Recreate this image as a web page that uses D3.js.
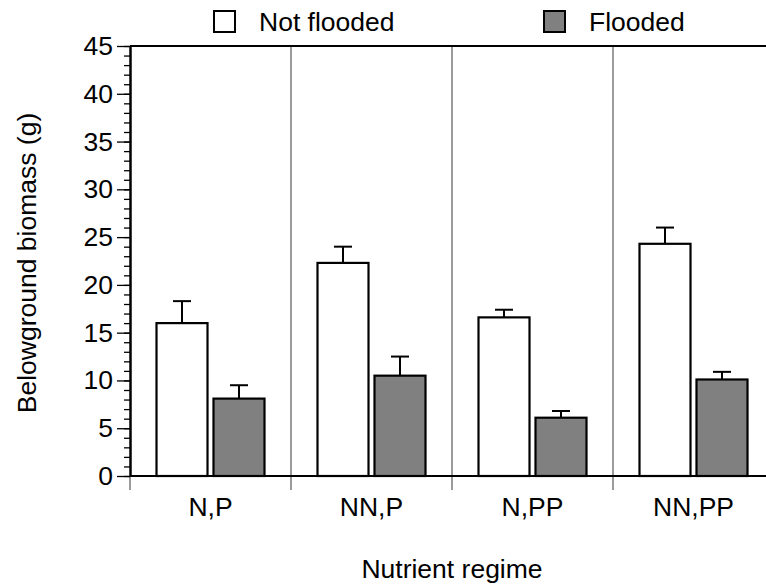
<!DOCTYPE html>
<html>
<head>
<meta charset="utf-8">
<script src="https://cdn.jsdelivr.net/npm/d3@7"></script>
<style>
  html, body { margin: 0; padding: 0; background: #fff; }
  svg { display: block; font-family: "Liberation Sans", Arial, sans-serif; }
</style>
</head>
<body>
<svg id="chart" width="766" height="588"></svg>
<script>
// Nutrient regimes along the x axis
const regimes = ["N,P", "NN,P", "N,PP", "NN,PP"];
// Treatment series
const series = ["Not flooded", "Flooded"];
const seriesFill = ["#ffffff", "#808080"];
// Mean belowground biomass (g)
const notFlooded = [16.0, 22.3, 16.6, 24.3];
const flooded = [8.1, 10.5, 6.1, 10.1];
// Upper end of the error bars (mean + SE)
const notFloodedUpper = [18.3, 24.0, 17.4, 26.0];
const floodedUpper = [9.5, 12.5, 6.8, 10.9];
// Y axis ticks
const yMajorTicks = [0, 5, 10, 15, 20, 25, 30, 35, 40, 45];
const yMinorTicks = d3.range(0, 46, 1);

const svg = d3.select("#chart");
const plotLeft = 130, plotRight = 774, plotTop = 46, plotBottom = 476;
const fontSize = 26.5;

const x = d3.scaleBand().domain(regimes).range([plotLeft, plotRight]).padding(0);
const xInner = d3.scaleBand().domain(series).range([0, x.bandwidth()])
  .paddingInner(0.105).paddingOuter(0.465);
const y = d3.scaleLinear().domain([0, 45]).range([plotBottom, plotTop]);

const rows = regimes.map((r, i) => ({
  regime: r,
  values: [
    { s: series[0], v: notFlooded[i], hi: notFloodedUpper[i] },
    { s: series[1], v: flooded[i], hi: floodedUpper[i] }
  ]
}));

// Group separators
svg.append("g").selectAll("line")
  .data(regimes.slice(1))
  .join("line")
  .attr("x1", d => x(d)).attr("x2", d => x(d))
  .attr("y1", plotTop).attr("y2", plotBottom)
  .attr("stroke", "#666").attr("stroke-width", 1.3);

// Category ticks below the axis
svg.append("g").selectAll("line")
  .data(regimes)
  .join("line")
  .attr("x1", d => x(d)).attr("x2", d => x(d))
  .attr("y1", plotBottom).attr("y2", plotBottom + 14)
  .attr("stroke", "#666").attr("stroke-width", 1.3);

// Bars and error bars
const groups = svg.append("g").selectAll("g")
  .data(rows)
  .join("g")
  .attr("transform", d => `translate(${x(d.regime)},0)`);

groups.selectAll("line.err")
  .data(d => d.values)
  .join("line")
  .attr("class", "err")
  .attr("x1", d => xInner(d.s) + xInner.bandwidth() / 2)
  .attr("x2", d => xInner(d.s) + xInner.bandwidth() / 2)
  .attr("y1", d => y(d.v)).attr("y2", d => y(d.hi))
  .attr("stroke", "#000").attr("stroke-width", 2);

groups.selectAll("line.cap")
  .data(d => d.values)
  .join("line")
  .attr("class", "cap")
  .attr("x1", d => xInner(d.s) + xInner.bandwidth() / 2 - 9)
  .attr("x2", d => xInner(d.s) + xInner.bandwidth() / 2 + 9)
  .attr("y1", d => y(d.hi)).attr("y2", d => y(d.hi))
  .attr("stroke", "#000").attr("stroke-width", 2);

groups.selectAll("rect")
  .data(d => d.values)
  .join("rect")
  .attr("x", d => xInner(d.s))
  .attr("width", xInner.bandwidth())
  .attr("y", d => y(d.v))
  .attr("height", d => y(0) - y(d.v))
  .attr("fill", (d, i) => seriesFill[i])
  .attr("stroke", "#000").attr("stroke-width", 2.2);

// Frame: top edge and baseline
svg.append("line").attr("x1", plotLeft).attr("x2", plotRight)
  .attr("y1", plotTop).attr("y2", plotTop).attr("stroke", "#000").attr("stroke-width", 2);
svg.append("line").attr("x1", plotLeft).attr("x2", plotRight)
  .attr("y1", plotBottom).attr("y2", plotBottom).attr("stroke", "#000").attr("stroke-width", 2);

// Y axis with minor ticks
const yMinor = svg.append("g").attr("transform", `translate(${plotLeft},0)`)
  .call(d3.axisLeft(y).tickValues(yMinorTicks).tickSize(6).tickFormat(""));
yMinor.select(".domain").remove();
yMinor.selectAll("line").attr("stroke", "#000").attr("stroke-width", 1.3);

const yAxis = svg.append("g").attr("transform", `translate(${plotLeft},0)`)
  .call(d3.axisLeft(y).tickValues(yMajorTicks).tickSize(13).tickPadding(4).tickSizeOuter(0));
yAxis.select(".domain").attr("stroke", "#000").attr("stroke-width", 2.5);
yAxis.selectAll(".tick line").attr("stroke", "#000").attr("stroke-width", 1.3);
yAxis.selectAll("text")
  .attr("font-size", fontSize).attr("fill", "#000")
  .attr("font-family", "'Liberation Sans', Arial, sans-serif");

// Category labels
svg.append("g").selectAll("text")
  .data(regimes)
  .join("text")
  .attr("x", d => x(d) + x.bandwidth() / 2)
  .attr("y", 516)
  .attr("text-anchor", "middle")
  .attr("font-size", fontSize)
  .text(d => d);

// Axis titles
svg.append("text")
  .attr("x", 452).attr("y", 578)
  .attr("text-anchor", "middle").attr("font-size", fontSize)
  .text("Nutrient regime");

svg.append("text")
  .attr("transform", `translate(36,263) rotate(-90)`)
  .attr("text-anchor", "middle").attr("font-size", fontSize)
  .text("Belowground biomass (g)");

// Legend
const legendBoxX = [214, 544];
const legendTextX = [259, 589];
const legend = svg.append("g").selectAll("g")
  .data(series)
  .join("g");
legend.append("rect")
  .attr("x", (d, i) => legendBoxX[i]).attr("y", 11)
  .attr("width", 21).attr("height", 21)
  .attr("fill", (d, i) => seriesFill[i])
  .attr("stroke", "#000").attr("stroke-width", 2);
legend.append("text")
  .attr("x", (d, i) => legendTextX[i]).attr("y", 31)
  .attr("font-size", fontSize)
  .text(d => d);
</script>
</body>
</html>
